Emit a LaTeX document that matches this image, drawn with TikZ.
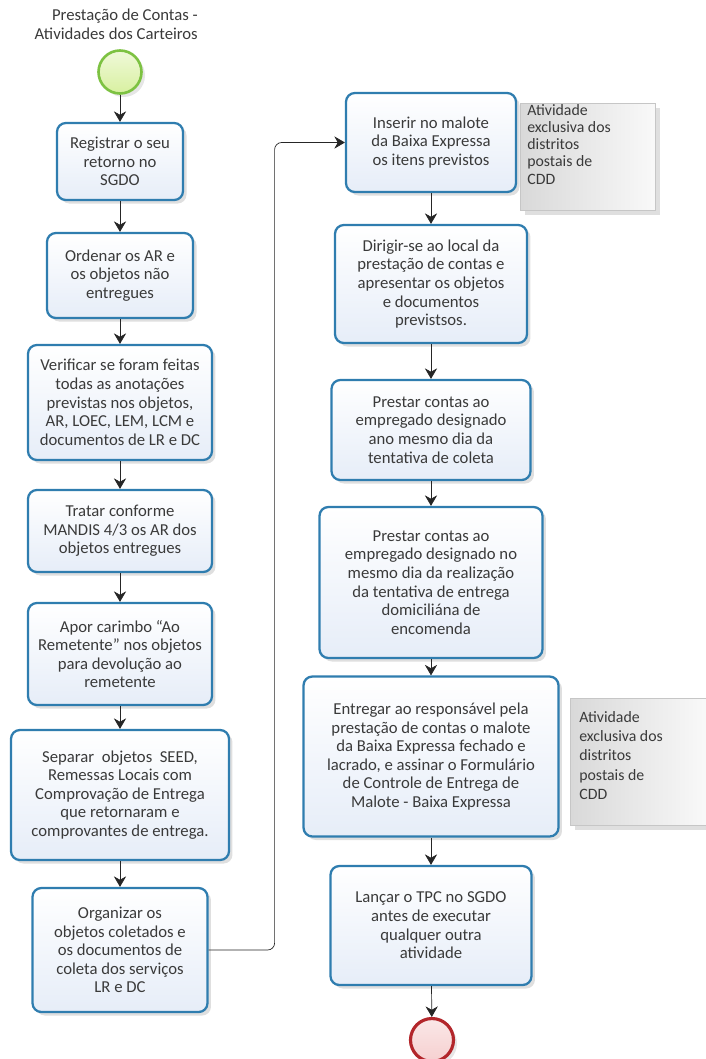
\documentclass[tikz,border=0pt]{standalone}
\usepackage{fontspec}
\setmainfont{Carlito}
\usetikzlibrary{arrows.meta,shadows,positioning}

\definecolor{taskblue}{HTML}{2F7DAF}
\definecolor{taskfill}{HTML}{E6EDF8}
\definecolor{txtgray}{HTML}{3A3A3A}
\definecolor{startgreen}{HTML}{7DC242}
\definecolor{startfill}{HTML}{D8F0A0}
\definecolor{endred}{HTML}{B3262B}
\definecolor{endfill}{HTML}{F6D0D0}

\tikzset{
  task/.style={draw=taskblue, line width=1.3pt, rounded corners=5pt,
    top color=white, bottom color=taskfill, align=center, text=txtgray,
    font=\fontsize{9.5}{10.6}\selectfont, inner sep=2pt,
    drop shadow={opacity=0.25, shadow xshift=2pt, shadow yshift=-2pt}},
  flow/.style={-{Stealth[length=6pt,width=7pt]}, thin, black!85},
  notebox/.style={draw=gray!45, left color=gray!30, right color=gray!5, inner sep=0pt,
    drop shadow={opacity=0.25, shadow xshift=3pt, shadow yshift=-3pt}},
  notetext/.style={align=left, text=txtgray, anchor=north west, inner sep=0pt},
  startev/.style={circle, draw=startgreen, line width=1.5pt, minimum size=0.86cm,
    top color=startfill!40, bottom color=startfill,
    drop shadow={opacity=0.2, shadow xshift=2pt, shadow yshift=-2pt}},
  endev/.style={circle, draw=endred, line width=1.8pt, minimum size=0.86cm,
    top color=endfill!50, bottom color=endfill,
    drop shadow={opacity=0.2, shadow xshift=2pt, shadow yshift=-2pt}},
}

\begin{document}
\begin{tikzpicture}[x=0.02cm, y=-0.02cm]
  \useasboundingbox (0,0) rectangle (706,1059);

  % title and start
  \node[align=right, anchor=east, text=txtgray, font=\fontsize{9.5}{10.6}\selectfont] (title) at (204,24)
    {Prestação de Contas -\\Atividades dos Carteiros};
  \node[startev] (start) at (120,72) {};

  % left column
  \node[task, minimum width=2.52cm, minimum height=1.54cm] (b1) at (120,161.5)
    {Registrar o seu\\retorno no\\SGDO};
  \node[task, minimum width=2.92cm, minimum height=1.70cm] (b2) at (120,275.5)
    {Ordenar os AR e\\os objetos não\\entregues};
  \node[task, minimum width=3.68cm, minimum height=2.30cm] (b3) at (120,402.5)
    {Verificar se foram feitas\\todas as anotações\\previstas nos objetos,\\AR, LOEC, LEM, LCM e\\documentos de LR e DC};
  \node[task, minimum width=3.68cm, minimum height=1.64cm] (b4) at (120,531)
    {Tratar conforme\\MANDIS 4/3 os AR dos\\objetos entregues};
  \node[task, minimum width=3.68cm, minimum height=2.04cm] (b5) at (120,654)
    {Apor carimbo ``Ao\\Remetente'' nos objetos\\para devolução ao\\remetente};
  \node[task, minimum width=4.36cm, minimum height=2.60cm] (b6) at (120,795)
    {Separar~ objetos~ SEED,\\Remessas Locais com\\Comprovação de Entrega\\que retornaram e\\comprovantes de entrega.};
  \node[task, minimum width=3.50cm, minimum height=2.48cm] (b7) at (120,950)
    {Organizar os\\objetos coletados e\\os documentos de\\coleta dos serviços\\LR e DC};

  % right column
  \node[task, minimum width=3.40cm, minimum height=1.98cm] (b8) at (431,142.5)
    {Inserir no malote\\da Baixa Expressa\\os itens previstos};
  \node[task, minimum width=3.84cm, minimum height=2.36cm] (b9) at (431,284)
    {Dirigir-se ao local da\\prestação de contas e\\apresentar os objetos\\e documentos\\previstsos.};
  \node[task, minimum width=3.98cm, minimum height=2.00cm] (b10) at (431,430)
    {Prestar contas ao\\empregado designado\\ano mesmo dia da\\tentativa de coleta};
  \node[task, minimum width=4.46cm, minimum height=3.02cm] (b11) at (431,582.5)
    {Prestar contas ao\\empregado designado no\\mesmo dia da realização\\da tentativa de entrega\\domiciliána de\\encomenda};
  \node[task, minimum width=5.10cm, minimum height=3.20cm] (b12) at (431,756.5)
    {Entregar ao responsável pela\\prestação de contas o malote\\da Baixa Expressa fechado e\\lacrado, e assinar o Formulário\\de Controle de Entrega de\\Malote - Baixa Expressa};
  \node[task, minimum width=4.02cm, minimum height=2.38cm] (b13) at (431,925.5)
    {Lançar o TPC no SGDO\\antes de executar\\qualquer outra\\atividade};
  \node[endev] (end) at (432,1040) {};

  % annotations
  \node[notebox, minimum width=2.70cm, minimum height=2.14cm] (n1) at (587.5,156.5) {};
  \node[notetext, font=\fontsize{9}{9.8}\selectfont] (n1t) at (527,104)
    {Atividade\\exclusiva dos\\distritos\\postais de\\CDD};
  \node[notebox, minimum width=2.72cm, minimum height=2.54cm] (n2) at (638,761.5) {};
  \node[notetext, font=\fontsize{9}{11}\selectfont] (n2t) at (579,711)
    {Atividade\\exclusiva dos\\distritos\\postais de\\CDD};

  % sequence flows
  \draw[flow] (start) -- (b1);
  \draw[flow] (b1) -- (b2);
  \draw[flow] (b2) -- (b3);
  \draw[flow] (b3) -- (b4);
  \draw[flow] (b4) -- (b5);
  \draw[flow] (b5) -- (b6);
  \draw[flow] (b6) -- (b7);
  \draw[flow, rounded corners=4pt] (b7.east) -- ++(66,0) |- (b8.west);
  \draw[flow] (b8) -- (b9);
  \draw[flow] (b9) -- (b10);
  \draw[flow] (b10) -- (b11);
  \draw[flow] (b11) -- (b12);
  \draw[flow] (b12) -- (b13);
  \draw[flow] (b13) -- (end);
\end{tikzpicture}
\end{document}
